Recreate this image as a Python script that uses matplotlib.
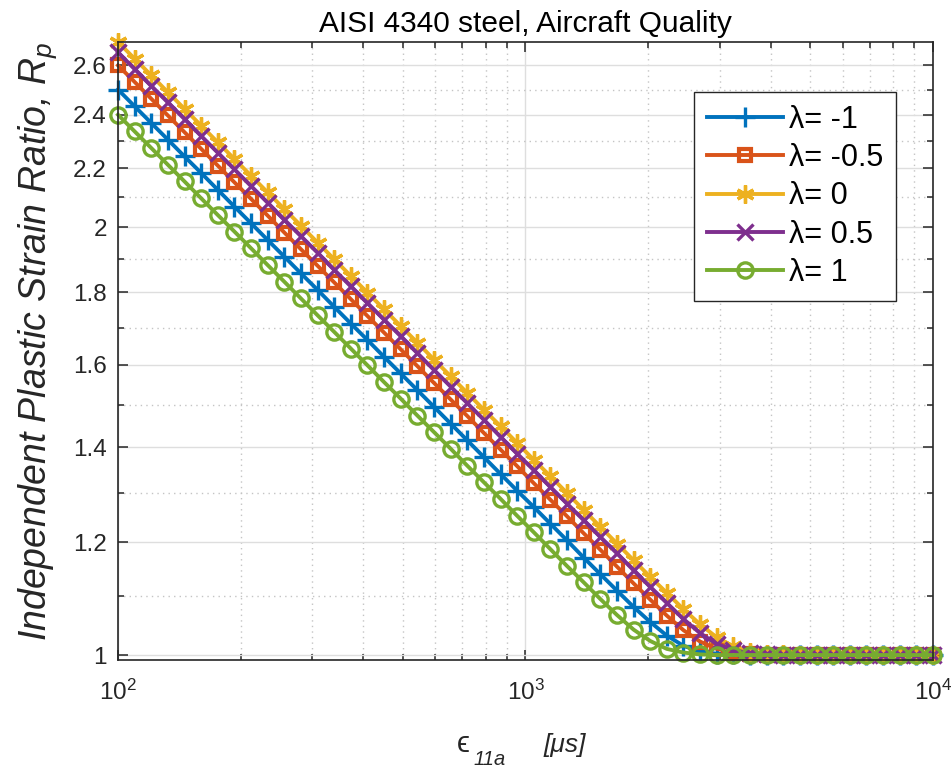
import matplotlib
matplotlib.use('Agg')
import matplotlib.pyplot as plt
from matplotlib.ticker import FixedLocator, FixedFormatter, NullFormatter

plt.rcParams['font.family'] = ['Liberation Sans', 'DejaVu Sans']
plt.rcParams['mathtext.fontset'] = 'custom'
plt.rcParams['mathtext.rm'] = 'Liberation Sans'
plt.rcParams['mathtext.it'] = 'Liberation Sans:italic'

## strain amplitude, micro-strain (50 log-spaced points)
strain = [100.0, 109.85, 120.68, 132.57, 145.63, 159.98, 175.75, 193.07, 212.10, 233.00,
          255.95, 281.17, 308.88, 339.32, 372.76, 409.49, 449.84, 494.17, 542.87, 596.36,
          655.13, 719.69, 790.60, 868.51, 954.10, 1048.11, 1151.40, 1264.86, 1389.50, 1526.42,
          1676.83, 1842.07, 2023.59, 2222.00, 2442.05, 2682.70, 2947.05, 3237.46, 3556.48, 3906.94,
          4291.93, 4714.87, 5179.47, 5689.87, 6250.55, 6866.49, 7543.12, 8286.43, 9102.98, 10000.0]

rp_m1 = [2.500, 2.433, 2.368, 2.305, 2.243, 2.184, 2.125, 2.068, 2.013, 1.959,
         1.907, 1.856, 1.807, 1.758, 1.711, 1.666, 1.621, 1.578, 1.536, 1.495,
         1.455, 1.416, 1.378, 1.341, 1.305, 1.271, 1.237, 1.204, 1.171, 1.140,
         1.110, 1.081, 1.055, 1.032, 1.015, 1.006, 1.002, 1.001, 1.000, 1.000,
         1.000, 1.000, 1.000, 1.000, 1.000, 1.000, 1.000, 1.000, 1.000, 1.000]

rp_m05 = [2.600, 2.531, 2.463, 2.397, 2.333, 2.271, 2.210, 2.151, 2.094, 2.038,
          1.983, 1.930, 1.879, 1.829, 1.780, 1.732, 1.686, 1.641, 1.597, 1.554,
          1.513, 1.473, 1.433, 1.395, 1.358, 1.321, 1.286, 1.252, 1.218, 1.186,
          1.154, 1.123, 1.094, 1.066, 1.041, 1.022, 1.010, 1.004, 1.001, 1.000,
          1.000, 1.000, 1.000, 1.000, 1.000, 1.000, 1.000, 1.000, 1.000, 1.000]

rp_0 = [2.700, 2.628, 2.558, 2.489, 2.423, 2.358, 2.295, 2.234, 2.174, 2.116,
        2.060, 2.005, 1.951, 1.899, 1.848, 1.799, 1.751, 1.704, 1.659, 1.614,
        1.571, 1.529, 1.488, 1.449, 1.410, 1.372, 1.336, 1.300, 1.265, 1.231,
        1.198, 1.166, 1.135, 1.106, 1.077, 1.051, 1.029, 1.014, 1.005, 1.002,
        1.001, 1.000, 1.000, 1.000, 1.000, 1.000, 1.000, 1.000, 1.000, 1.000]

rp_p05 = [2.655, 2.584, 2.515, 2.448, 2.383, 2.319, 2.257, 2.197, 2.138, 2.081,
          2.025, 1.971, 1.919, 1.867, 1.817, 1.769, 1.722, 1.676, 1.631, 1.587,
          1.545, 1.504, 1.464, 1.424, 1.386, 1.349, 1.313, 1.278, 1.244, 1.211,
          1.179, 1.147, 1.117, 1.088, 1.060, 1.036, 1.018, 1.008, 1.003, 1.001,
          1.000, 1.000, 1.000, 1.000, 1.000, 1.000, 1.000, 1.000, 1.000, 1.000]

rp_p1 = [2.400, 2.336, 2.274, 2.213, 2.154, 2.096, 2.040, 1.986, 1.933, 1.881,
         1.831, 1.782, 1.734, 1.688, 1.643, 1.599, 1.556, 1.515, 1.474, 1.435,
         1.397, 1.359, 1.323, 1.288, 1.253, 1.220, 1.187, 1.155, 1.125, 1.095,
         1.067, 1.042, 1.023, 1.010, 1.004, 1.001, 1.000, 1.000, 1.000, 1.000,
         1.000, 1.000, 1.000, 1.000, 1.000, 1.000, 1.000, 1.000, 1.000, 1.000]

series = [rp_m1, rp_m05, rp_0, rp_p05, rp_p1]
labels = ['\u03bb= -1', '\u03bb= -0.5', '\u03bb= 0', '\u03bb= 0.5', '\u03bb= 1']
colors = ['#0072BD', '#D95319', '#EDB120', '#7E2F8E', '#77AC30']
markers = ['+', 's', (6, 2, 0), 'x', 'o']
msizes = [14, 8, 13, 11, 11]
medges = [2.4, 3.0, 2.4, 2.4, 2.4]

y_ticks = [1, 1.2, 1.4, 1.6, 1.8, 2, 2.2, 2.4, 2.6]
y_ticklabels = ['1', '1.2', '1.4', '1.6', '1.8', '2', '2.2', '2.4', '2.6']
y_minor = [1.1, 1.3, 1.5, 1.7, 1.9, 2.1, 2.3, 2.5]
x_ticks = [100, 1000, 10000]
x_ticklabels = [r'$10^2$', r'$10^3$', r'$10^4$']
x_minor = [200, 300, 400, 500, 600, 700, 800, 900,
           2000, 3000, 4000, 5000, 6000, 7000, 8000, 9000]

W, H = 953, 771
fig = plt.figure(figsize=(W / 100, H / 100), dpi=100)
ax = fig.add_axes([0.1238, 0.144, 0.8552, 0.8015])

for ys, lab, c, m, s, e in zip(series, labels, colors, markers, msizes, medges):
    ax.plot(strain, ys, color=c, marker=m, ms=s, mew=e, mfc='none', lw=2.8,
            label=lab, clip_on=False)

ax.set_xscale('log')
ax.set_yscale('log')
ax.set_xlim(100, 10000)
ax.set_ylim(0.992, 2.7)

ax.xaxis.set_major_locator(FixedLocator(x_ticks))
ax.xaxis.set_major_formatter(FixedFormatter(x_ticklabels))
ax.xaxis.set_minor_locator(FixedLocator(x_minor))
ax.xaxis.set_minor_formatter(NullFormatter())
ax.yaxis.set_major_locator(FixedLocator(y_ticks))
ax.yaxis.set_major_formatter(FixedFormatter(y_ticklabels))
ax.yaxis.set_minor_locator(FixedLocator(y_minor))
ax.yaxis.set_minor_formatter(NullFormatter())

ax.grid(which='major', color='#dedede', lw=1.0, ls='-')
ax.grid(which='minor', color='#c4c4c4', lw=1.0, ls=(0, (1, 3)))
ax.set_axisbelow(True)

ax.tick_params(which='both', direction='in', top=True, right=True,
               colors='#262626', labelsize=17.5, width=1.1)
ax.tick_params(which='major', length=7, pad=8)
ax.tick_params(axis='x', which='major', pad=14)
ax.tick_params(which='minor', length=4)
for sp in ax.spines.values():
    sp.set_color('#262626')
    sp.set_linewidth(1.2)

ax.set_title('AISI 4340 steel, Aircraft Quality', fontsize=21.5, pad=7)
ax.set_ylabel('Independent Plastic Strain Ratio, $R_p$', fontstyle='italic',
              fontsize=27, color='#262626')
ax.yaxis.set_label_coords(-0.072, 0.515)

# x label built from pieces so the subscript keeps a near full size
t1 = fig.text(457 / W, 1 - 752 / H, '\u03f5', fontsize=21, color='#262626',
              va='baseline', ha='left')
fig.canvas.draw()
r = fig.canvas.get_renderer()
bb = t1.get_window_extent(r)
t2 = fig.text((bb.x1 + 4) / W, 1 - 765 / H, '11a', fontsize=14.5,
              fontstyle='italic', color='#262626', va='baseline', ha='left')
bb = t2.get_window_extent(r)
t3 = fig.text((bb.x1 + 37) / W, 1 - 752 / H, '[\u03bcs]', fontsize=19,
              fontstyle='italic', color='#262626', va='baseline', ha='left')

leg = ax.legend(loc='upper right', bbox_to_anchor=(0.955, 0.919), fontsize=22,
                handlelength=2.5, handletextpad=0.2, fancybox=False,
                edgecolor='#262626', framealpha=1, borderaxespad=0,
                labelspacing=0.27, borderpad=0.42)
leg.get_frame().set_linewidth(1.0)

fig.savefig('out.png', dpi=100)
